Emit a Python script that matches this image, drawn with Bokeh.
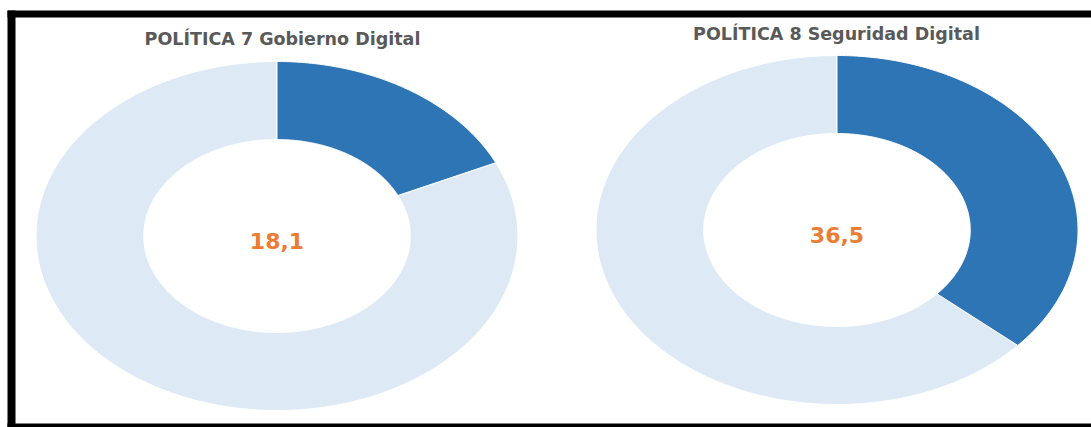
import numpy as np
from bokeh.plotting import figure
from bokeh.models import Range1d
from bokeh.core.properties import value
from bokeh.embed import file_html
from bokeh.resources import INLINE

# Indicator values (percent) per policy
titles = ["POLÍTICA 7 Gobierno Digital", "POLÍTICA 8 Seguridad Digital"]
scores = [18.1, 36.5]
labels = ["18,1", "36,5"]

W, H = 1091, 427
DARK = "#2E75B6"
LIGHT = "#DDEAF6"
ORANGE = "#EA7D33"
GREY = "#595959"

# donut geometry in page pixels (the charts are slightly stretched horizontally)
centers = [(276.5, 235.5), (836.5, 229.5)]
RX, RY = 241.0, 174.5
HOLE = 0.553
title_pos = [(282, 38), (836, 33)]


def ring_segment(cx, cy, start_frac, end_frac, n=200):
    """Elliptical annular segment, clockwise from 12 o'clock (fractions of a turn)."""
    t = np.linspace(start_frac, end_frac, n) * 2 * np.pi
    xo = cx + RX * np.sin(t)
    yo = cy - RY * np.cos(t)
    xi = cx + RX * HOLE * np.sin(t[::-1])
    yi = cy - RY * HOLE * np.cos(t[::-1])
    return list(np.concatenate([xo, xi])), list(np.concatenate([yo, yi]))


p = figure(width=W, height=H, output_backend="svg", toolbar_location=None,
           x_range=Range1d(0, W), y_range=Range1d(H, 0), min_border=0)
p.axis.visible = False
p.grid.visible = False
p.outline_line_color = None
p.background_fill_color = "white"
p.border_fill_color = "white"

xs_light, ys_light, xs_dark, ys_dark = [], [], [], []
for (cx, cy), s in zip(centers, scores):
    f = s / 100.0
    x, y = ring_segment(cx, cy, 0.0, f)
    xs_dark.append(x); ys_dark.append(y)
    x, y = ring_segment(cx, cy, f, 1.0)
    xs_light.append(x); ys_light.append(y)

p.patches(xs_light, ys_light, fill_color=LIGHT, line_color="white", line_width=1)
p.patches(xs_dark, ys_dark, fill_color=DARK, line_color="white", line_width=1)

# value labels in the holes
p.text(x=[c[0] for c in centers], y=[c[1] + 5 for c in centers], text=labels,
       text_font=value("DejaVu Sans"), text_font_style="bold", text_font_size="22px",
       text_color=ORANGE, text_align="center", text_baseline="middle")

# chart titles
p.text(x=[t[0] for t in title_pos], y=[t[1] for t in title_pos], text=titles,
       text_font=value("DejaVu Sans"), text_font_style="bold", text_font_size="17.5px",
       text_color=GREY, text_align="center", text_baseline="middle")

# black frame around the pair of charts
p.quad(left=[7, 7, 7], right=[W, 15, W], top=[10, 10, 423], bottom=[17, H, H],
       fill_color="black", line_color=None)

open("out.html", "w").write(file_html(p, INLINE))
